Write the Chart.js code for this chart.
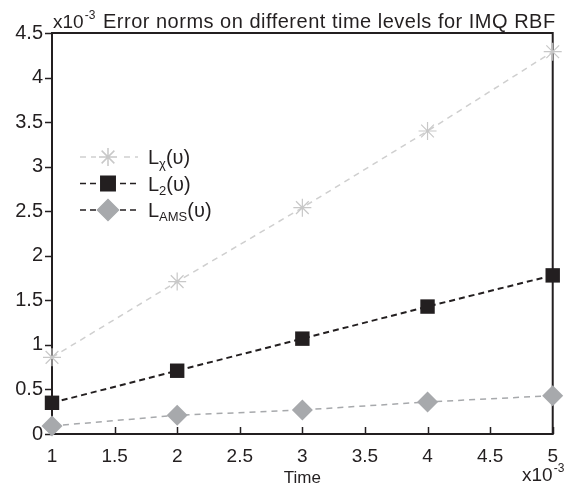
<!DOCTYPE html>
<html>
<head>
<meta charset="utf-8">
<script src="https://cdn.jsdelivr.net/npm/chart.js@4/dist/chart.umd.min.js"></script>
<style>
html, body { margin: 0; padding: 0; background: #fff; }
#wrap { width: 569px; height: 489px; position: relative; }
</style>
</head>
<body>
<div id="wrap"><canvas id="chart"></canvas></div>
<script>
// values (both axes are x10^-3)
var timeLevels = [1, 2, 3, 4, 5];
var lInf = [0.86, 1.71, 2.54, 3.40, 4.29];
var l2 = [0.35, 0.71, 1.07, 1.43, 1.78];
var lAms = [0.09, 0.21, 0.27, 0.36, 0.43];
var xTicks = [1, 1.5, 2, 2.5, 3, 3.5, 4, 4.5, 5];
var yTicks = [0, 0.5, 1, 1.5, 2, 2.5, 3, 3.5, 4, 4.5];

var FONT = '"Liberation Sans", Arial, sans-serif';
var INK = '#231f20';

function pairs(ys) {
    return timeLevels.map(function (t, i) { return { x: t, y: ys[i] }; });
}

var legendItems = [
    { sub: '\u03c7', line: '#cfcfcf', dash: [6, 5], style: 'star', r: 9, fill: '#c8c8c8', stroke: '#c8c8c8' },
    { sub: '2', line: INK, dash: [6, 4], style: 'rect', r: 10.2, fill: INK, stroke: INK },
    { sub: 'AMS', line: INK, dash: [6, 4], style: 'rectRot', r: 10.5, fill: '#a7a9ac', stroke: '#a7a9ac' }
];

function sup10(ctx, x, y) {
    ctx.font = '19px ' + FONT;
    ctx.textAlign = 'left';
    ctx.textBaseline = 'alphabetic';
    ctx.fillText('x10', x, y);
    var w = ctx.measureText('x10').width;
    ctx.font = '12px ' + FONT;
    ctx.fillText('-3', x + w + 1, y - 9);
}

var framePlugin = {
    id: 'frame',
    beforeDatasetsDraw: function (chart) {
        var ctx = chart.ctx;
        var a = chart.chartArea;
        var xs = chart.scales.x, ys = chart.scales.y;
        ctx.save();
        ctx.strokeStyle = INK;
        ctx.lineWidth = 2;
        ctx.strokeRect(a.left, a.top, a.right - a.left, a.bottom - a.top);
        ctx.lineWidth = 1.5;
        ctx.beginPath();
        xTicks.forEach(function (v) {
            var px = Math.round(xs.getPixelForValue(v)) + 0.5;
            ctx.moveTo(px, a.bottom);
            ctx.lineTo(px, a.bottom - 7);
        });
        yTicks.forEach(function (v) {
            var py = Math.round(ys.getPixelForValue(v)) + 0.5;
            ctx.moveTo(a.left, py);
            ctx.lineTo(a.left - 7, py);
        });
        ctx.stroke();
        ctx.restore();
    },
    afterDraw: function (chart) {
        var ctx = chart.ctx;
        ctx.save();
        ctx.fillStyle = INK;
        // title and exponent labels
        sup10(ctx, 53, 28);
        ctx.font = '20px ' + FONT;
        ctx.textAlign = 'left';
        ctx.letterSpacing = '0.5px';
        ctx.fillText('Error norms on different time levels for IMQ RBF', 103, 28);
        ctx.letterSpacing = '0px';
        sup10(ctx, 522, 481);

        // legend
        legendItems.forEach(function (it, i) {
            var y = 157 + i * 26.5;
            ctx.save();
            ctx.strokeStyle = it.line;
            ctx.lineWidth = 1.5;
            ctx.setLineDash(it.dash);
            ctx.beginPath();
            ctx.moveTo(80, y);
            ctx.lineTo(138, y);
            ctx.stroke();
            ctx.setLineDash([]);
            ctx.fillStyle = '#fff';
            ctx.fillRect(96, y - 11, 24, 22);
            ctx.fillStyle = it.fill;
            ctx.strokeStyle = it.stroke;
            Chart.helpers.drawPoint(ctx, { pointStyle: it.style, radius: it.r, rotation: 0, borderWidth: 1.2 }, 108, y);
            ctx.restore();

            ctx.fillStyle = INK;
            ctx.textBaseline = 'alphabetic';
            ctx.font = '20px ' + FONT;
            var tx = 148;
            ctx.fillText('L', tx, y + 7);
            tx += ctx.measureText('L').width;
            ctx.font = '13px ' + FONT;
            ctx.fillText(it.sub, tx, y + 11);
            tx += ctx.measureText(it.sub).width;
            ctx.font = '20px ' + FONT;
            ctx.fillText('(\u03c5)', tx, y + 7);
        });
        ctx.restore();
    }
};

var ctx = document.getElementById('chart').getContext('2d');
var chart = new Chart(ctx, {
    type: 'line',
    data: {
        datasets: [{
            label: 'L\u03c7(\u03c5)',
            data: pairs(lInf),
            borderColor: '#cfcfcf',
            borderWidth: 1.5,
            borderDash: [6, 5],
            pointStyle: 'star',
            pointRadius: 9,
            pointBorderColor: '#c8c8c8',
            pointBorderWidth: 1.2,
            clip: false
        }, {
            label: 'L2(\u03c5)',
            data: pairs(l2),
            borderColor: INK,
            borderWidth: 2,
            borderDash: [6, 4],
            pointStyle: 'rect',
            pointRadius: 10.2,
            pointBackgroundColor: INK,
            pointBorderColor: INK,
            pointBorderWidth: 0,
            clip: false
        }, {
            label: 'LAMS(\u03c5)',
            data: pairs(lAms),
            borderColor: '#a7a9ac',
            borderWidth: 1.5,
            borderDash: [6, 5],
            pointStyle: 'rectRot',
            pointRadius: 10.5,
            pointBackgroundColor: '#a7a9ac',
            pointBorderColor: '#a7a9ac',
            pointBorderWidth: 0,
            clip: false
        }]
    },
    options: {
        responsive: true,
        maintainAspectRatio: false,
        animation: false,
        layout: { padding: { top: 33, right: 7, left: 0, bottom: 0 } },
        plugins: {
            legend: { display: false },
            tooltip: { enabled: false }
        },
        scales: {
            x: {
                type: 'linear',
                min: 1,
                max: 5,
                afterBuildTicks: function (s) { s.ticks = xTicks.map(function (v) { return { value: v }; }); },
                afterFit: function (s) { s.height = 55; },
                grid: { display: false, drawTicks: false },
                border: { display: false },
                ticks: { color: INK, padding: 11, maxRotation: 0, autoSkip: false, font: { family: FONT, size: 19 }, callback: function (v) { return String(v); } },
                title: { display: true, text: 'Time', color: INK, padding: { top: 0, bottom: 0 }, font: { family: FONT, size: 17 } }
            },
            y: {
                min: 0,
                max: 4.5,
                afterBuildTicks: function (s) { s.ticks = yTicks.map(function (v) { return { value: v }; }); },
                afterFit: function (s) { s.width = 52; },
                grid: { display: false, drawTicks: false },
                border: { display: false },
                ticks: { color: INK, padding: 9, autoSkip: false, font: { family: FONT, size: 20 }, callback: function (v) { return String(v); } }
            }
        }
    },
    plugins: [framePlugin]
});
</script>
</body>
</html>
